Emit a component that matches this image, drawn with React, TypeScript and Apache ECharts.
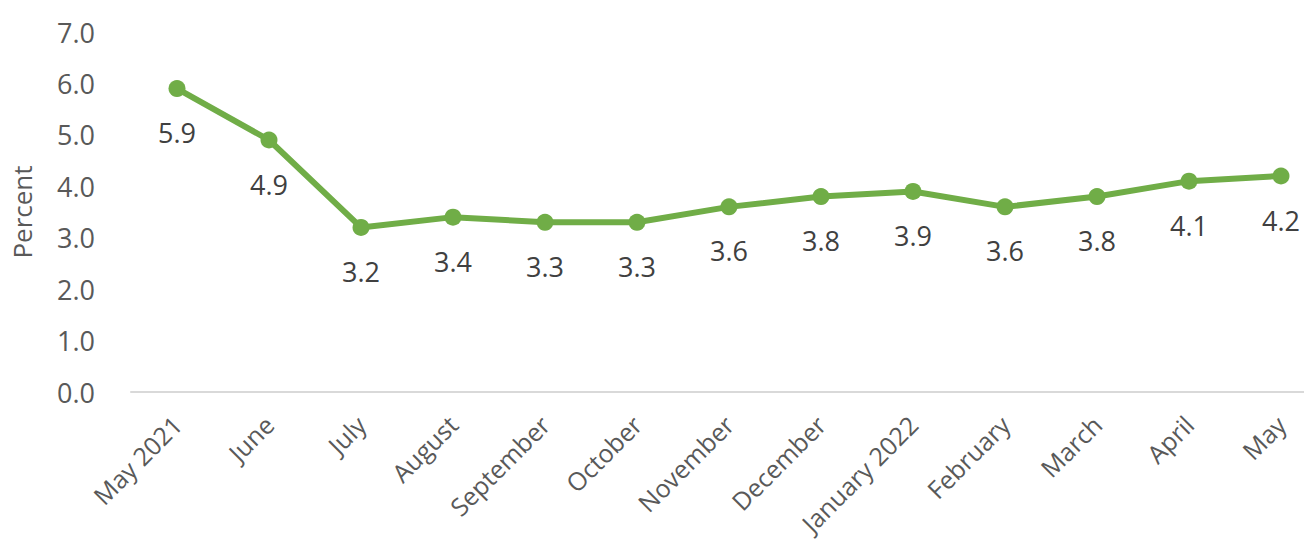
import React, { useEffect, useRef } from "react";
import * as echarts from "echarts";

const categories = [
  "May 2021", "June", "July", "August", "September", "October", "November",
  "December", "January 2022", "February", "March", "April", "May",
];
const values = [5.9, 4.9, 3.2, 3.4, 3.3, 3.3, 3.6, 3.8, 3.9, 3.6, 3.8, 4.1, 4.2];
const yTicks = [0, 1, 2, 3, 4, 5, 6, 7];

const FONT = "'Open Sans', 'Noto Sans', sans-serif";
const TEXT = "#595959";

export default function App() {
  const ref = useRef<HTMLDivElement>(null);
  useEffect(() => {
    if (!ref.current) return;
    const chart = echarts.init(ref.current, null, { renderer: "svg" });
    chart.setOption({
      animation: false,
      backgroundColor: "#ffffff",
      grid: { left: 131, top: 32, width: 1196, height: 360, containLabel: false },
      xAxis: {
        type: "category",
        data: categories,
        boundaryGap: true,
        axisLine: { show: true, lineStyle: { color: "#d9d9d9", width: 2 } },
        axisTick: { show: false },
        axisLabel: {
          rotate: 45,
          interval: 0,
          margin: 28,
          color: TEXT,
          fontSize: 25,
          fontFamily: FONT,
        },
        splitLine: { show: false },
      },
      yAxis: {
        type: "value",
        min: yTicks[0],
        max: yTicks[yTicks.length - 1],
        interval: 1,
        name: "Percent",
        nameLocation: "middle",
        nameGap: 96,
        nameTextStyle: { color: TEXT, fontSize: 26, fontFamily: FONT },
        axisLine: { show: false },
        axisTick: { show: false },
        splitLine: { show: false },
        axisLabel: {
          margin: 36,
          color: TEXT,
          fontSize: 27,
          fontFamily: FONT,
          formatter: (v: number) => v.toFixed(1),
        },
      },
      series: [
        {
          type: "line",
          data: values,
          symbol: "circle",
          symbolSize: 17,
          lineStyle: { color: "#70AD47", width: 6 },
          itemStyle: { color: "#70AD47" },
          label: {
            show: true,
            position: "inside",
            offset: [0, 44],
            color: "#404040",
            fontSize: 27,
            fontFamily: FONT,
            formatter: (p: any) => Number(p.value).toFixed(1),
          },
        },
      ],
    });
    return () => chart.dispose();
  }, []);
  return (
    <div style={{ position: "fixed", left: 0, top: 0, width: 1304, height: 545, overflow: "hidden", background: "#fff" }}>
      <div ref={ref} style={{ position: "absolute", left: 0, top: 0, width: 1340, height: 545 }} />
    </div>
  );
}
